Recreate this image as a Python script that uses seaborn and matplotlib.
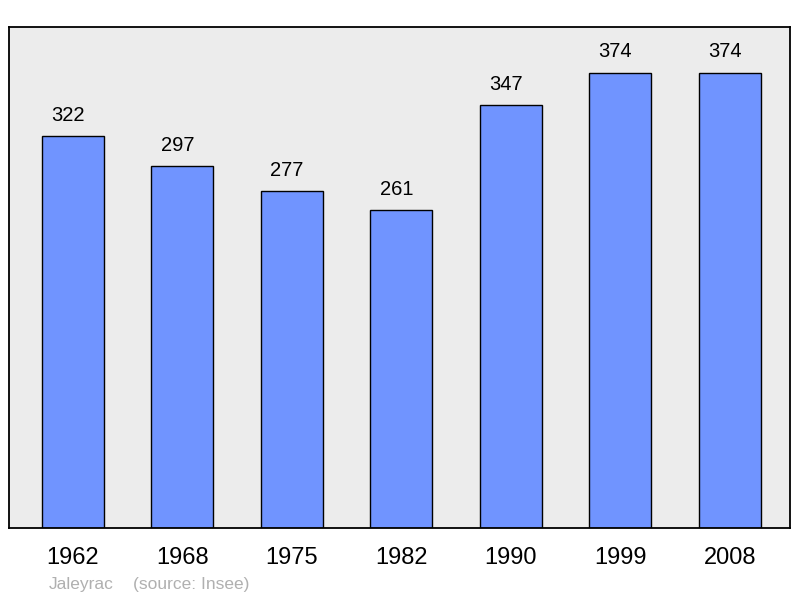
import pandas as pd
import matplotlib.pyplot as plt
import seaborn as sns

# Population data (Jaleyrac, source: Insee)
years = ['1962', '1968', '1975', '1982', '1990', '1999', '2008']
population = [322, 297, 277, 261, 347, 374, 374]

df = pd.DataFrame({'year': years, 'population': population})

sns.set_theme(style="white")
plt.rcParams['font.family'] = ['Liberation Sans', 'DejaVu Sans']

fig = plt.figure(figsize=(8, 5.98), dpi=100)
ax = fig.add_axes([9 / 800, 70 / 598, 781 / 800, 501 / 598])
ax.set_facecolor('#ececec')

sns.barplot(data=df, x='year', y='population', color='#7094ff', saturation=1,
            width=0.566, edgecolor='black', linewidth=1, ax=ax)

# value labels above each bar (slightly left of centre, like the original)
for i, v in enumerate(population):
    ax.annotate(str(v), (i, v), xytext=(-3.5, 8), textcoords='offset points',
                ha='center', va='bottom', fontsize=14.5, color='black')

ax.set_xlim(-0.584, 6.55)
ax.set_ylim(0, max(population) * 1.1)
ax.set_yticks([])
ax.set_xlabel('')
ax.set_ylabel('')
ax.tick_params(axis='x', length=0, pad=14, labelsize=17, colors='black')
for s in ax.spines.values():
    s.set_color('black')
    s.set_linewidth(1.3)

fig.text(49 / 800, 1 - 585 / 598, 'Jaleyrac', fontsize=12.5,
         color='#b0b0b0', ha='left', va='center')
fig.text(133 / 800, 1 - 585 / 598, '(source: Insee)', fontsize=12.5,
         color='#b0b0b0', ha='left', va='center')

plt.savefig('out.png')
